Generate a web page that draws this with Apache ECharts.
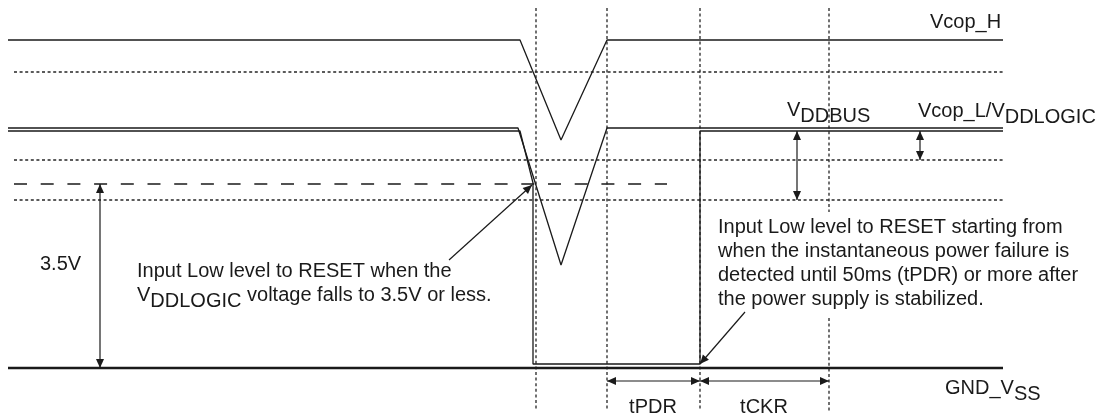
<!DOCTYPE html>
<html>
<head>
<meta charset="utf-8">
<script src="https://cdn.jsdelivr.net/npm/echarts@6/dist/echarts.min.js"></script>
<style>
html,body{margin:0;padding:0;background:#ffffff;}
#chart{width:1115px;height:416px;}
</style>
</head>
<body>
<div id="chart"></div>
<script>
// ---- data: time (x) / level (y, GND = 0) values ----
const vcopH      = [[8,328],[520,328],[561,228],[607,328],[1003,328]];
const vddLogic   = [[8,240],[518,240],[561,103],[607,240],[1003,240]];
const resetLine  = [[8,237],[520,237],[533,185],[533,4],[700,4],[700,237],[1003,237]];
const gndLine    = [[8,0],[1003,0]];
const dottedLevels = [296, 208, 168];
const dottedSpan   = [14, 1003];
const thresholdLevel = 184;           // 3.5V
const thresholdSpan  = [14, 667];
const timeMarks      = [536, 607, 700, 829];
const timeMarkSpan   = [-43, 360];
const timeMarkGap    = {829: [50, 156]};
// dimension / pointer arrows: from (x1,y1) to (x2,y2), heads
const arrowFrom  = [[100,0],[797,168],[920,208],[607,-13],[700,-13],[449,108],[745,56]];
const arrowTo    = [[100,184],[797,237],[920,237],[700,-13],[829,-13],[532,183],[700,4]];
const arrowHeads = ['both','both','both','both','both','end','end'];
// texts and their anchors
const labelTexts = [
  '{n|Vcop_H}',
  '{n|V}{s|DDBUS}',
  '{n|Vcop_L/V}{s|DDLOGIC}',
  '{n|GND_V}{s|SS}',
  '{n|3.5V}',
  '{n|Input Low level to RESET when the}\n{n|V}{s|DDLOGIC}{n| voltage falls to 3.5V or less.}',
  '{n|Input Low level to RESET starting from}\n{n|when the instantaneous power failure is}\n{n|detected until 50ms (tPDR) or more after}\n{n|the power supply is stabilized.}',
  '{n|tPDR}',
  '{n|tCKR}'
];
const labelAnchors = [[930,356],[787,268],[918,267],[945,-10],[40,114],[137,107],[718,151],[653,-29],[764,-29]];
const labelAligns  = ['left','left','left','left','left','left','left','center','center'];

// ---- rendering ----
const INK = '#1a1a1a';
const DOT = '#262626';
const FONT = '"Liberation Sans", Arial, Helvetica, sans-serif';
const RICH = {
  n: {fontSize: 20, fontFamily: FONT, lineHeight: 24, verticalAlign: 'top', fill: INK},
  s: {fontSize: 20, fontFamily: FONT, lineHeight: 24, verticalAlign: 'top', fill: INK, padding: [6,0,0,0]}
};

function solid(data, w) {
  return {type: 'line', data: data, symbol: 'none', silent: true, animation: false, z: 3,
          lineStyle: {color: INK, width: w}};
}
function dashedLine(data, dash, w, color) {
  return {type: 'line', data: data, symbol: 'none', silent: true, animation: false, z: 2,
          lineStyle: {color: color, width: w, type: dash}};
}

const series = [];
dottedLevels.forEach(l => series.push(dashedLine([[dottedSpan[0], l],[dottedSpan[1], l]], [3, 2.6], 1.3, DOT)));
series.push(dashedLine([[thresholdSpan[0], thresholdLevel],[thresholdSpan[1], thresholdLevel]], [13, 13.7], 1.3, INK));
timeMarks.forEach(t => {
  const gap = timeMarkGap[t];
  if (gap) {
    series.push(dashedLine([[t, timeMarkSpan[1]],[t, gap[1]]], [3, 2.6], 1.3, DOT));
    series.push(dashedLine([[t, gap[0]],[t, timeMarkSpan[0]]], [3, 2.6], 1.3, DOT));
  } else {
    series.push(dashedLine([[t, timeMarkSpan[1]],[t, timeMarkSpan[0]]], [3, 2.6], 1.3, DOT));
  }
});
series.push(solid(vcopH, 1.3));
series.push(solid(vddLogic, 1.3));
series.push(solid(resetLine, 1.3));
series.push(solid(gndLine, 2.7));

function head(tip, from) {
  const dx = tip[0] - from[0], dy = tip[1] - from[1];
  const L = Math.hypot(dx, dy) || 1;
  const ux = dx / L, uy = dy / L;
  const bx = tip[0] - ux * 9, by = tip[1] - uy * 9;
  return {type: 'polygon', shape: {points: [[tip[0], tip[1]], [bx - uy * 4, by + ux * 4], [bx + uy * 4, by - ux * 4]]},
          style: {fill: INK}};
}
series.push({
  type: 'custom', coordinateSystem: 'cartesian2d', silent: true, animation: false, z: 4,
  data: arrowFrom.map((p, i) => [p[0], p[1], arrowTo[i][0], arrowTo[i][1]]),
  renderItem: function (params, api) {
    const i = params.dataIndex;
    const p1 = api.coord(arrowFrom[i]);
    const p2 = api.coord(arrowTo[i]);
    const children = [{type: 'line', shape: {x1: p1[0], y1: p1[1], x2: p2[0], y2: p2[1]},
                       style: {stroke: INK, lineWidth: 1.2}}];
    children.push(head(p2, p1));
    if (arrowHeads[i] === 'both') children.push(head(p1, p2));
    return {type: 'group', children: children};
  }
});
series.push({
  type: 'custom', coordinateSystem: 'cartesian2d', silent: true, animation: false, z: 5,
  data: labelAnchors,
  renderItem: function (params, api) {
    const i = params.dataIndex;
    const p = api.coord(labelAnchors[i]);
    return {type: 'text', x: p[0], y: p[1],
            style: {text: labelTexts[i], rich: RICH, fill: INK, fontSize: 20, fontFamily: FONT,
                    lineHeight: 24, align: labelAligns[i], verticalAlign: 'top'}};
  }
});

const chart = echarts.init(document.getElementById('chart'), null, {renderer: 'canvas'});
chart.setOption({
  backgroundColor: '#ffffff',
  animation: false,
  grid: {left: 0, right: 0, top: 0, bottom: 0, containLabel: false},
  xAxis: {type: 'value', min: 0, max: 1115, show: false},
  yAxis: {type: 'value', min: -48, max: 368, show: false},
  series: series
});
</script>
</body>
</html>
